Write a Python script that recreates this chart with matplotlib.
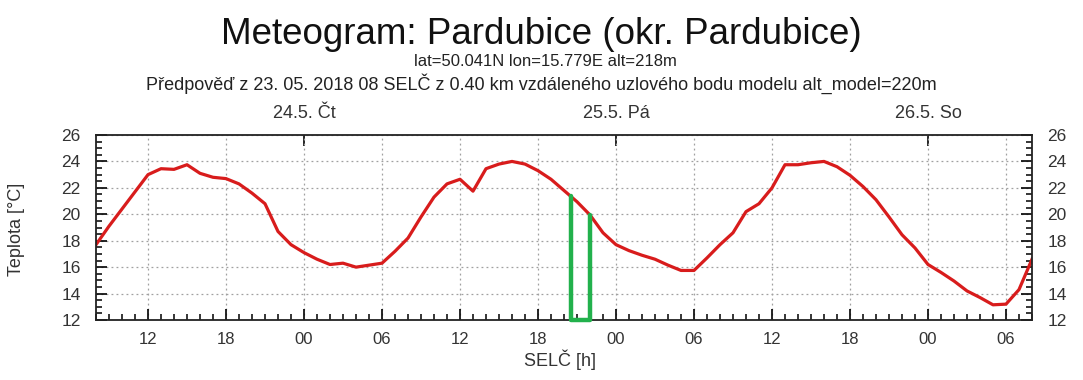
import numpy as np
import matplotlib.pyplot as plt
from matplotlib.ticker import MultipleLocator, FixedLocator

plt.rcParams['font.family'] = ['Liberation Sans', 'DejaVu Sans']

# hours since 24.5. 08:00 SELC
hours = np.arange(0, 73)
temp = [17.7, 19.1, 20.4, 21.7, 23.0, 23.45, 23.4, 23.75, 23.1, 22.8,
        22.7, 22.3, 21.6, 20.8, 18.7, 17.7, 17.1, 16.6, 16.2, 16.3,
        16.0, 16.15, 16.3, 17.2, 18.2, 19.8, 21.3, 22.3, 22.65, 21.75,
        23.45, 23.8, 24.0, 23.8, 23.3, 22.65, 21.8, 20.95, 19.95, 18.6,
        17.7, 17.25, 16.9, 16.6, 16.15, 15.75, 15.75, 16.7, 17.7, 18.6,
        20.2, 20.8, 22.0, 23.75, 23.75, 23.9, 24.0, 23.6, 22.95, 22.1,
        21.1, 19.8, 18.45, 17.45, 16.2, 15.6, 14.95, 14.2, 13.7, 13.15,
        13.2, 14.3, 16.6]

tick_hours = [4, 10, 16, 22, 28, 34, 40, 46, 52, 58, 64, 70]
tick_labels = ['12', '18', '00', '06', '12', '18', '00', '06', '12', '18', '00', '06']
day_hours = [16, 40, 64]
day_labels = ['24.5. Čt', '25.5. Pá', '26.5. So']
marker_hours = [36.5, 38.0]

fig = plt.figure(figsize=(10.83, 3.8), dpi=100)
ax = fig.add_axes([96/1083, 1-320/380, 936/1083, 185/380])

ax.plot(hours, temp, color='#d81c1c', lw=2.3, solid_joinstyle='round')

# green marker box
mt = np.interp(marker_hours, hours, temp)
ax.plot([marker_hours[0], marker_hours[0], marker_hours[1], marker_hours[1]],
        [mt[0], 12, 12, mt[1]], color='#22b14c', lw=3.2,
        solid_joinstyle='round', solid_capstyle='round', clip_on=False, zorder=5)

ax.set_xlim(0, 72)
ax.set_ylim(12, 26)
ax.xaxis.set_major_locator(FixedLocator(tick_hours))
ax.set_xticklabels(tick_labels)
ax.xaxis.set_minor_locator(MultipleLocator(1))
ax.yaxis.set_major_locator(MultipleLocator(2))
ax.yaxis.set_minor_locator(MultipleLocator(0.5))
ax.grid(True, which='major', color='#a0a0a0', ls=(0, (1.5, 2.5)), lw=0.9)

ax.tick_params(axis='x', which='major', direction='in', length=8, width=1.2,
               labelsize=12, labelcolor='#333333', pad=9, top=False)
ax.tick_params(axis='x', which='minor', direction='in', length=4, width=1.1, top=False)
ax.tick_params(axis='y', which='major', direction='in', length=8, width=1.2,
               labelsize=12.5, labelcolor='#333333', right=True, labelright=True, pad=11)
ax.tick_params(axis='y', which='minor', direction='in', length=4, width=1.1, right=True)

for s in ax.spines.values():
    s.set_linewidth(1.3)
    s.set_color('#222222')

# midnight ticks on top, day labels
top = ax.secondary_xaxis('top')
top.set_xticks(day_hours)
top.set_xticklabels(day_labels)
top.tick_params(direction='in', length=8, width=1.2, labelsize=13,
                labelcolor='#333333', pad=9)
top.spines['top'].set_visible(False)

fig.text(560/1083, 1-360/380, 'SELČ [h]', ha='center', va='center',
         fontsize=13, color='#333333')
fig.text(17/1083, 1-229/380, 'Teplota [°C]', ha='center', va='center',
         rotation=90, fontsize=13, color='#333333')

fig.text(0.5, 1-34/380, 'Meteogram: Pardubice (okr. Pardubice)', ha='center', va='center',
         fontsize=26.5, color='#111111')
fig.text(545/1083, 1-61/380, 'lat=50.041N lon=15.779E alt=218m', ha='center', va='center',
         fontsize=12, color='#222222')
fig.text(541/1083, 1-84/380,
         'Předpověď z 23. 05. 2018 08 SELČ z 0.40 km vzdáleného uzlového bodu modelu alt_model=220m',
         ha='center', va='center', fontsize=13, color='#222222')

fig.savefig('out.png', dpi=100)
